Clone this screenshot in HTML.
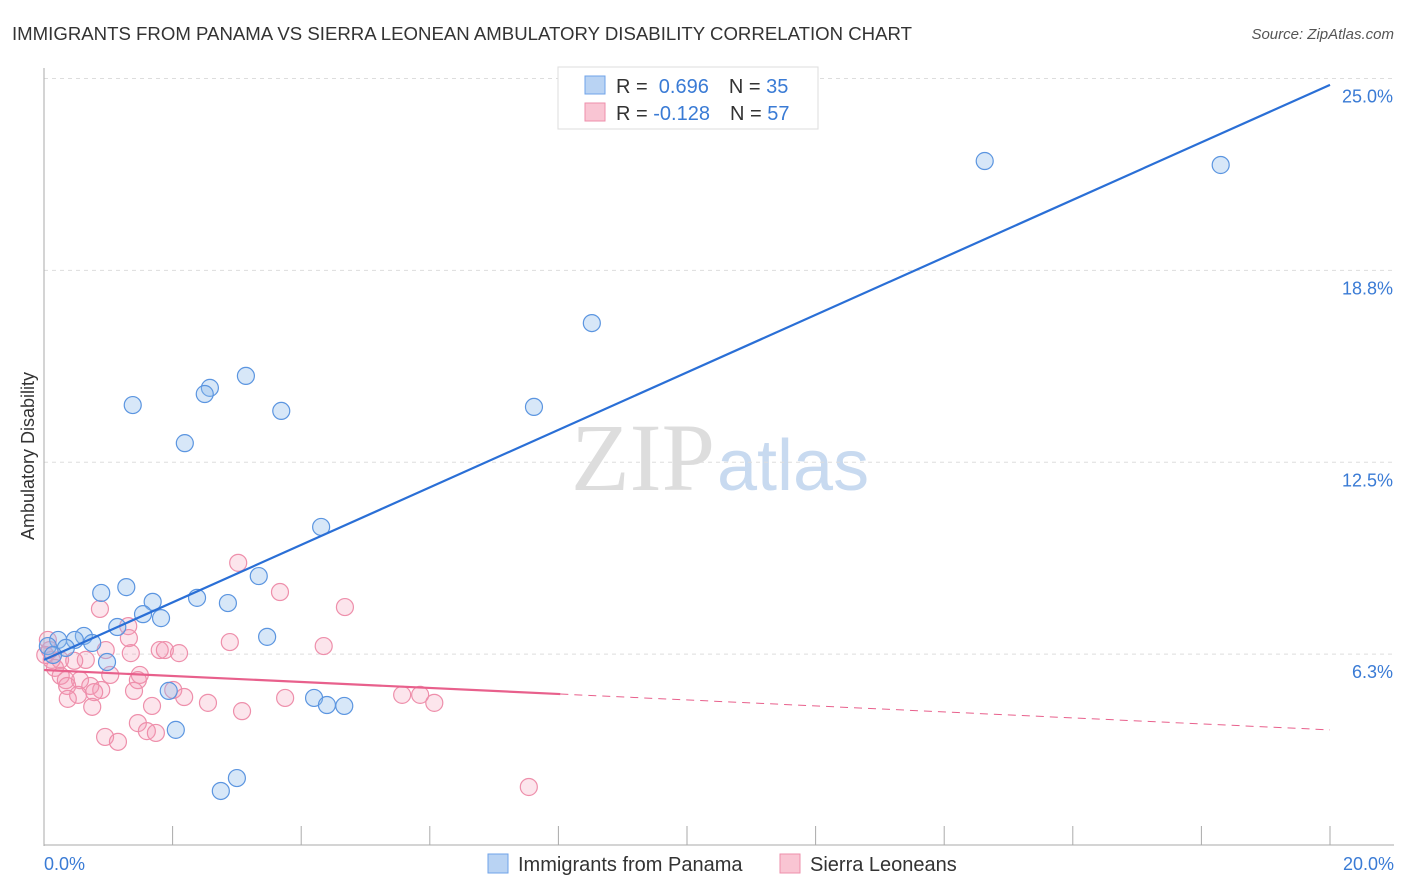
<!DOCTYPE html>
<html><head><meta charset="utf-8"><style>
body{margin:0;background:#fff;font-family:"Liberation Sans",sans-serif}
svg{display:block}
</style></head><body>
<svg id="c" width="1406" height="892" viewBox="0 0 1406 892">
<text x="12" y="40" font-size="18" fill="#333" textLength="900" lengthAdjust="spacingAndGlyphs">IMMIGRANTS FROM PANAMA VS SIERRA LEONEAN AMBULATORY DISABILITY CORRELATION CHART</text>
<text x="1394" y="39" font-size="15" fill="#555" font-style="italic" text-anchor="end">Source: ZipAtlas.com</text>
<text x="715" y="490" font-size="96" fill="#ddd" text-anchor="end" font-family="Liberation Serif,serif">ZIP</text>
<text x="717" y="490" font-size="72" fill="#c8daf0">atlas</text>
<g id="grid"></g>
<line x1="44" y1="68" x2="44" y2="846" stroke="#aaa"/>
<line x1="44" y1="845" x2="1394" y2="845" stroke="#aaa"/>
<g id="xticks"></g>
<text x="34" y="456" font-size="18" fill="#333" text-anchor="middle" transform="rotate(-90 34 456)">Ambulatory Disability</text>
<text x="44" y="870" font-size="18" fill="#3a7bd5">0.0%</text>
<text x="1394" y="870" font-size="18" fill="#3a7bd5" text-anchor="end">20.0%</text>
<g id="pts"></g>
<g id="lines"></g>
<g>
<rect x="558" y="67" width="260" height="62" fill="#fff" stroke="#ddd"/>
<rect x="585" y="76" width="20" height="18" fill="#b9d3f3" stroke="#6fa3e8"/>
<rect x="585" y="103" width="20" height="18" fill="#f9c5d3" stroke="#ee8fab"/>
<text x="616" y="93" font-size="20" fill="#333">R = <tspan fill="#3a7bd5">&#160;0.696</tspan><tspan dx="20">N = </tspan><tspan fill="#3a7bd5">35</tspan></text>
<text x="616" y="120" font-size="20" fill="#333">R = <tspan fill="#3a7bd5">-0.128</tspan><tspan dx="20">N = </tspan><tspan fill="#3a7bd5">57</tspan></text>
</g>
<g>
<rect x="488" y="854" width="20" height="19" fill="#b9d3f3" stroke="#6fa3e8"/>
<text x="518" y="871" font-size="20" fill="#333">Immigrants from Panama</text>
<rect x="780" y="854" width="20" height="19" fill="#f9c5d3" stroke="#ee8fab"/>
<text x="810" y="871" font-size="20" fill="#333">Sierra Leoneans</text>
</g>
</svg>
<script>
const yTicks=[6.25,12.5,18.75,25];
const yTickLabels=["6.3%","12.5%","18.8%","25.0%"];
const blueX=[14.63,18.30,8.52,7.62,3.14,2.58,2.50,1.38,3.69,2.19,4.31,3.34,1.28,0.89,1.69,2.38,2.86,1.54,1.82,1.14,3.47,0.62,0.22,0.48,0.75,0.34,0.06,0.14,0.98,1.94,4.20,4.40,4.67,2.05,3.00,2.75];
const blueY=[22.28,22.15,17.0,14.27,15.28,14.89,14.69,14.33,14.14,13.09,10.36,8.76,8.40,8.21,7.92,8.05,7.88,7.52,7.39,7.10,6.78,6.81,6.68,6.68,6.58,6.42,6.48,6.19,5.96,5.02,4.79,4.56,4.53,3.75,2.18,1.76];
const pinkX=[3.02,3.67,4.68,0.87,1.31,1.32,2.89,4.35,1.80,1.88,2.10,0.96,1.35,0.65,0.25,0.47,0.06,0.12,0.17,0.26,0.34,0.56,1.03,1.49,1.46,0.72,0.89,0.36,0.78,0.53,1.40,2.01,2.18,2.55,3.08,3.75,5.57,5.85,6.07,0.37,0.75,1.68,1.46,1.60,1.74,0.95,1.15,7.54,0.09,0.02];
const pinkY=[9.19,8.24,7.75,7.69,7.13,6.74,6.61,6.48,6.35,6.35,6.25,6.35,6.25,6.03,6.03,6.00,6.68,6.03,5.77,5.51,5.37,5.37,5.54,5.54,5.37,5.18,5.05,5.18,4.98,4.89,5.02,5.05,4.82,4.63,4.36,4.79,4.89,4.89,4.63,4.76,4.50,4.53,3.97,3.71,3.65,3.52,3.36,1.89,6.35,6.19];
const blueFit=[6.03,24.76];
const pinkFit=[5.7,3.75];
const NS="http://www.w3.org/2000/svg";
const xs=v=>44+v*64.3, ys=v=>845-v*30.7;
function mk(t,a,p){const e=document.createElementNS(NS,t);for(const k in a)e.setAttribute(k,a[k]);p.appendChild(e);return e;}
const grid=document.getElementById('grid');
yTicks.forEach((t,i)=>{
 const l=mk('line',{x1:44,x2:1394,y1:ys(t)+1,y2:ys(t)+1,stroke:'#ddd','stroke-dasharray':'4,4'},grid);
 
 
 const tx=mk('text',{x:1393,y:ys(t)+25,'font-size':18,fill:'#3a7bd5','text-anchor':'end'},grid);
 tx.textContent=yTickLabels[i];
 
 
});
const xt=document.getElementById('xticks');
for(let i=1;i<=10;i++){
 const l=mk('line',{x1:xs(i*2),x2:xs(i*2),y1:826,y2:845,stroke:'#aaa'},xt);
 
 
}
const pts=document.getElementById('pts');
pinkX.forEach((x,i)=>{
 const c=mk('circle',{cx:xs(x),cy:ys(pinkY[i]),r:8.5,fill:'rgba(244,150,178,0.25)',stroke:'#ee8fab','stroke-width':1.2},pts);
 
 
});
blueX.forEach((x,i)=>{
 const c=mk('circle',{cx:xs(x),cy:ys(blueY[i]),r:8.5,fill:'rgba(140,185,235,0.35)',stroke:'#5b95e0','stroke-width':1.2},pts);
 
 
});
const ln=document.getElementById('lines');
const b=mk('line',{x1:xs(0),y1:ys(blueFit[0]),x2:xs(20),y2:ys(blueFit[1]),stroke:'#2a6fd6','stroke-width':2.2},ln);


const mid=8.03, pm=pinkFit[0]+(pinkFit[1]-pinkFit[0])*mid/20;
const p1=mk('line',{x1:xs(0),y1:ys(pinkFit[0]),x2:xs(mid),y2:ys(pm),stroke:'#e8608c','stroke-width':2.2},ln);


const p2=mk('line',{x1:xs(mid),y1:ys(pm),x2:xs(20),y2:ys(pinkFit[1]),stroke:'#e8608c','stroke-width':1,'stroke-dasharray':'8,6'},ln);


</script>
</body></html>
